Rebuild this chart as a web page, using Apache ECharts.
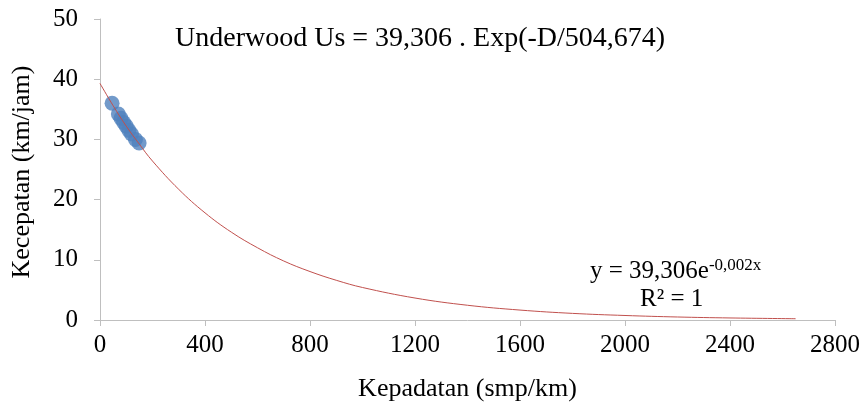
<!DOCTYPE html>
<html><head><meta charset="utf-8">
<script src="https://cdn.jsdelivr.net/npm/echarts@6/dist/echarts.min.js"></script>
<style>html,body{margin:0;padding:0;background:#fff}#c{width:867px;height:407px}</style>
</head><body><div id="c"></div>
<script>
// Observed data points (density smp/km, speed km/jam)
const obsX = [46, 70, 80, 90, 100, 110, 120, 135, 149];
const obsY = [36.0, 34.2, 33.5, 32.8, 32.2, 31.5, 30.9, 30.0, 29.4];
// Trendline values
const trendX = [0, 50, 100, 150, 200, 300, 400, 500, 600, 700, 800, 900, 1000, 1200, 1400, 1600, 1800, 2000, 2200, 2400, 2650];
const trendY = [39.3, 35.6, 32.2, 29.2, 26.4, 21.7, 17.8, 14.6, 12.0, 9.8, 8.05, 6.6, 5.4, 3.65, 2.45, 1.65, 1.1, 0.75, 0.5, 0.34, 0.21];
const xTicks = [0, 400, 800, 1200, 1600, 2000, 2400, 2800];
const yTicks = [0, 10, 20, 30, 40, 50];

const font = '"Liberation Serif", "Times New Roman", serif';
const chart = echarts.init(document.getElementById('c'));
chart.setOption({
  animation: false,
  backgroundColor: '#fff',
  grid: {left: 100, right: 32, top: 19, bottom: 87, containLabel: false},
  xAxis: {
    type: 'value', min: xTicks[0], max: xTicks[xTicks.length-1], interval: 400,
    name: 'Kepadatan (smp/km)', nameLocation: 'middle', nameGap: 56,
    nameTextStyle: {fontFamily: font, fontSize: 26, color: '#000'},
    axisLine: {show: true, lineStyle: {color: '#bfbfbf', width: 1}},
    axisTick: {show: true, length: 6, lineStyle: {color: '#bfbfbf'}},
    axisLabel: {fontFamily: font, fontSize: 25, color: '#000', margin: 13, formatter: v => String(v)},
    splitLine: {show: false}
  },
  yAxis: {
    type: 'value', min: yTicks[0], max: yTicks[yTicks.length-1], interval: 10,
    axisLine: {show: true, lineStyle: {color: '#bfbfbf', width: 1}},
    axisTick: {show: true, length: 6, lineStyle: {color: '#bfbfbf'}},
    axisLabel: {fontFamily: font, fontSize: 25, color: '#000', margin: 22, formatter: v => String(v)},
    splitLine: {show: false}
  },
  series: [
    {
      type: 'scatter', symbol: 'circle', symbolSize: 15,
      itemStyle: {color: '#4f81bd'},
      data: obsX.map((x, i) => [x, obsY[i]]), z: 2
    },
    {
      type: 'line', smooth: 0.4, symbol: 'none',
      lineStyle: {color: '#c0504d', width: 1},
      data: trendX.map((x, i) => [x, trendY[i]]), z: 3
    }
  ],
  graphic: [
    {type: 'text', x: 22, y: 172, rotation: Math.PI/2, style: {text: 'Kecepatan (km/jam)', font: '26px ' + font, fill: '#000', textAlign: 'center', textVerticalAlign: 'middle'}},
    {type: 'text', left: 175, top: 25, style: {text: 'Underwood Us = 39,306 . Exp(-D/504,674)', font: '28px ' + font, fill: '#000'}},
    {type: 'text', left: 590, top: 257, style: {
      text: '{a|y = 39,306e}{s|-0,002x}',
      rich: {a: {font: '25px ' + font, fill: '#000', verticalAlign: 'bottom'}, s: {font: '17px ' + font, fill: '#000', verticalAlign: 'top', padding: [0,0,10,0]}}
    }},
    {type: 'text', left: 640, top: 287, style: {text: 'R² = 1', font: '25px ' + font, fill: '#000'}}
  ]
});
</script></body></html>
